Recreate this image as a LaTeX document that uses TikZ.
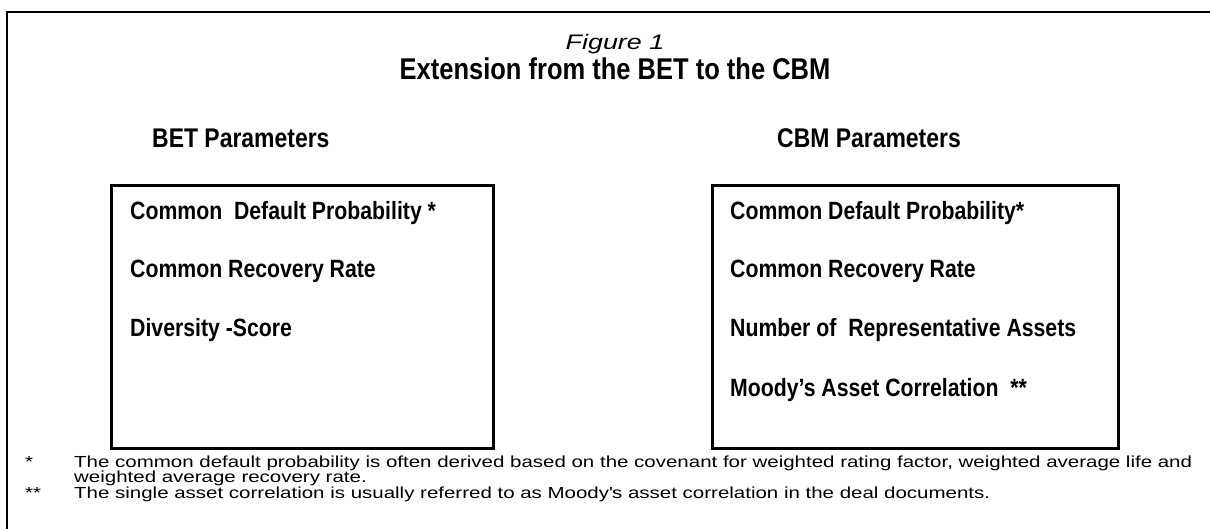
\documentclass[tikz,border=0pt]{standalone}
\usepackage{fontspec}
\setmainfont{Liberation Sans}
\newfontfamily\condfont[FakeStretch=0.85]{Liberation Sans}
\newfontfamily\widefont[FakeStretch=1.28]{Liberation Sans}
\usetikzlibrary{positioning}

\begin{document}
\begin{tikzpicture}[
     x=1pt, y=-1pt,
     % define styles
     frame/.style={
         line width=2pt
     },
     parambox/.style={
         draw, line width=3pt,
         anchor=north west,
         inner sep=0pt
     },
     caption/.style={
         anchor=base, inner sep=0pt
     },
     heading/.style={
         anchor=base west, inner sep=0pt,
         font=\condfont\bfseries\fontsize{27}{27}\selectfont
     },
     item/.style={
         anchor=base west, inner sep=0pt,
         font=\condfont\bfseries\fontsize{25}{25}\selectfont
     },
     note/.style={
         anchor=base west, inner sep=0pt,
         text height=11pt, text depth=3pt,
         font=\widefont\fontsize{16}{16}\selectfont
     }
]
\useasboundingbox (0,0) rectangle (1210,529);

% outer frame (open on the right and at the bottom)
\coordinate (top left) at (7,12);
\coordinate (top right) at (1210,12);
\coordinate (bottom left) at (7,529);
\draw[frame] (top right) -- (top left) -- (bottom left);

% title
\node[caption, font=\widefont\itshape\fontsize{21}{21}\selectfont] (figno) at (615,50) {Figure 1};
\node[caption, font=\condfont\bfseries\fontsize{30}{30}\selectfont] (title) at (615,80)
    {Extension from the BET to the CBM};

% column headings
\node[heading] (bethead) at (152,148) {BET Parameters};
\node[heading] (cbmhead) at (777,148) {CBM Parameters};

% parameter boxes
\node[parambox, minimum width=382pt, minimum height=262pt] (betbox) at (109.5,184.5) {};
\node[parambox, minimum width=406pt, minimum height=262pt] (cbmbox) at (710.5,184.5) {};

% BET parameters
\node[item] (bet-1) at (130,220) {Common~ Default Probability *};
\node[item] (bet-2) at (130,278) {Common Recovery Rate};
\node[item] (bet-3) at (130,337) {Diversity -Score};

% CBM parameters
\node[item] (cbm-1) at (730,220) {Common Default Probability*};
\node[item] (cbm-2) at (730,278) {Common Recovery Rate};
\node[item] (cbm-3) at (730,337) {Number of~ Representative Assets};
\node[item] (cbm-4) at (730,396) {Moody’s Asset Correlation~ **};

% footnotes
\node[note] (star-1) at (25,467) {*};
\node[note] (note-1) at (74,467) {The common default probability is often derived based on the covenant for weighted rating factor, weighted average life and};
\node[note] (note-1b) at (74,482.5) {weighted average recovery rate.};
\node[note] (star-2) at (25,498) {**};
\node[note] (note-2) at (74,498) {The single asset correlation is usually referred to as Moody\textquotesingle s asset correlation in the deal documents.};

\end{tikzpicture}
\end{document}
